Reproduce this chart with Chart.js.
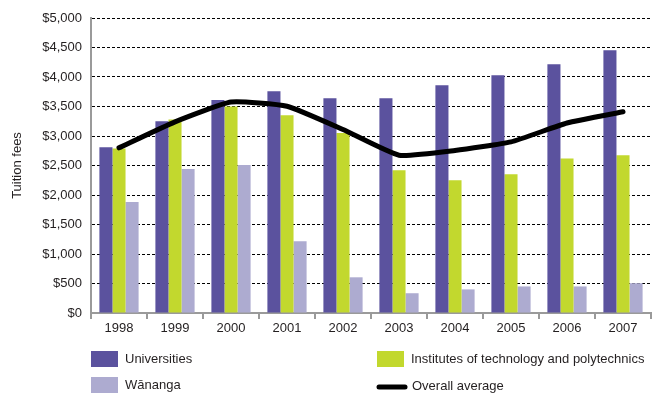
<!DOCTYPE html>
<html>
<head>
<meta charset="utf-8">
<script src="https://cdn.jsdelivr.net/npm/chart.js@4"></script>
<style>
  html, body { margin: 0; padding: 0; background: #fff; }
  #wrap { width: 652px; height: 394px; position: relative; }
</style>
</head>
<body>
<div id="wrap"><canvas id="fees"></canvas></div>
<script>
const years = ['1998', '1999', '2000', '2001', '2002', '2003', '2004', '2005', '2006', '2007'];
const universities = [2810, 3250, 3610, 3760, 3640, 3640, 3860, 4030, 4215, 4455];
const polytechnics = [2790, 3280, 3500, 3350, 3050, 2420, 2250, 2350, 2620, 2675];
const wananga = [1880, 2440, 2510, 1215, 605, 335, 400, 450, 450, 505];
const overallAverage = [2800, 3240, 3575, 3505, 3110, 2675, 2755, 2900, 3220, 3410];
const yTicks = [0, 500, 1000, 1500, 2000, 2500, 3000, 3500, 4000, 4500, 5000];

const FONT = 'Liberation Sans, Arial, sans-serif';
const TEXT = '#231f20';
const AXIS = '#9a9a9a';

// legend laid out as a 2x2 grid under the plot, like the original
const gridLegend = {
    id: 'gridLegend',
    afterDraw(chart) {
        const c = chart.ctx;
        const ds = chart.data.datasets;
        const slots = [
            { i: 0, x: 91, y: 351 },
            { i: 1, x: 377, y: 351 },
            { i: 2, x: 91, y: 377 },
            { i: 3, x: 377, y: 377 }
        ];
        c.save();
        c.font = '13px ' + FONT;
        c.textBaseline = 'middle';
        c.fillStyle = TEXT;
        slots.forEach((s) => {
            const d = ds[s.i];
            const mid = s.y + 8;
            if (d.type === 'line') {
                c.strokeStyle = d.borderColor;
                c.lineWidth = 5;
                c.lineCap = 'round';
                c.beginPath();
                c.moveTo(s.x + 2, mid + 2);
                c.lineTo(s.x + 28, mid + 2);
                c.stroke();
                c.fillStyle = TEXT;
                c.fillText(d.label, s.x + 35, mid + 1);
            } else {
                c.fillStyle = d.backgroundColor;
                c.fillRect(s.x, s.y, 27, 16);
                c.fillStyle = TEXT;
                c.fillText(d.label, s.x + 34, mid);
            }
        });
        c.restore();
    }
};

new Chart(document.getElementById('fees'), {
    type: 'bar',
    data: {
        labels: years,
        datasets: [
            { label: 'Universities', data: universities, backgroundColor: '#5b529e', order: 1 },
            { label: 'Institutes of technology and polytechnics', data: polytechnics, backgroundColor: '#c2d82e', order: 1 },
            { label: 'Wānanga', data: wananga, backgroundColor: '#adabd0', order: 1 },
            {
                type: 'line',
                label: 'Overall average',
                data: overallAverage,
                borderColor: '#000',
                backgroundColor: '#000',
                borderWidth: 5,
                pointRadius: 0,
                tension: 0.15,
                borderCapStyle: 'round',
                order: 0
            }
        ]
    },
    options: {
        responsive: true,
        maintainAspectRatio: false,
        animation: false,
        datasets: { bar: { categoryPercentage: 0.7, barPercentage: 1.0 } },
        layout: { padding: { left: 10, right: 1, top: 18, bottom: 58 } },
        plugins: {
            legend: { display: false },
            tooltip: { enabled: false }
        },
        scales: {
            x: {
                grid: {
                    offset: true,
                    drawOnChartArea: false,
                    drawTicks: true,
                    tickLength: 6,
                    color: AXIS,
                    lineWidth: 2
                },
                border: { color: AXIS, width: 2 },
                ticks: { color: TEXT, font: { family: FONT, size: 13 }, padding: 2 },
                afterFit(scale) { scale.height = 23; }
            },
            y: {
                min: 0,
                max: 5000,
                afterBuildTicks(scale) { scale.ticks = yTicks.map((v) => ({ value: v })); },
                grid: {
                    color: (ctx) => (ctx.tick && ctx.tick.value === 0 ? 'rgba(0,0,0,0)' : '#000'),
                    lineWidth: 1,
                    drawTicks: false
                },
                border: { color: AXIS, width: 2, dash: [3, 2] },
                ticks: {
                    color: TEXT,
                    font: { family: FONT, size: 13 },
                    padding: 9,
                    callback: (v) => '$' + Number(v).toLocaleString('en-US')
                },
                title: {
                    display: true,
                    text: 'Tuition fees',
                    color: TEXT,
                    font: { family: FONT, size: 13 },
                    padding: { top: 0, bottom: 0 }
                },
                afterFit(scale) { scale.width = 81; }
            }
        }
    },
    plugins: [gridLegend]
});
</script>
</body>
</html>
